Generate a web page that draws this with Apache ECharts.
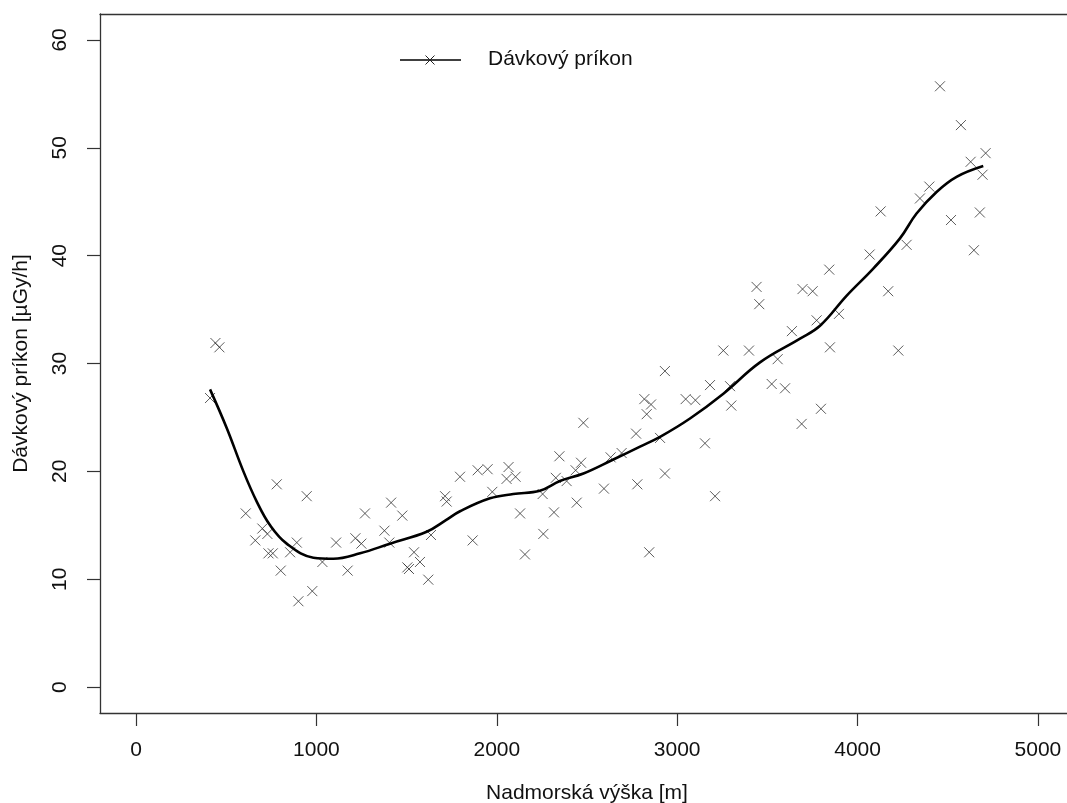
<!DOCTYPE html>
<html>
<head>
<meta charset="utf-8">
<script src="https://cdn.jsdelivr.net/npm/echarts@6/dist/echarts.min.js"></script>
<style>html,body{margin:0;padding:0;background:#fff}#c{width:1067px;height:803px}</style>
</head>
<body>
<div id="c"></div>
<script>
// Measured points: altitude [m]
const altitude = [410,440,462,608,661,700,728,734,758,780,802,854,891,900,946,977,1033,1109,1173,1216,1249,1269,1377,1404,1414,1476,1504,1513,1541,1574,1620,1635,1713,1722,1796,1866,1894,1949,1975,2054,2065,2104,2129,2156,2254,2258,2317,2327,2347,2387,2437,2443,2467,2480,2594,2631,2692,2772,2779,2818,2831,2845,2855,2905,2932,2932,3047,3101,3154,3182,3210,3256,3293,3300,3398,3440,3455,3524,3557,3598,3636,3690,3695,3751,3773,3797,3843,3847,3897,4067,4128,4170,4226,4272,4346,4398,4457,4518,4573,4627,4645,4678,4693,4710];
// Measured dose rate [µGy/h]
const doseRate = [26.8,31.9,31.5,16.1,13.6,14.7,14.2,12.4,12.4,18.8,10.8,12.5,13.4,7.96,17.7,8.9,11.6,13.4,10.8,13.8,13.3,16.1,14.5,13.4,17.1,15.9,11.1,10.95,12.5,11.6,9.96,14.1,17.7,17.2,19.5,13.6,20.1,20.2,18.1,19.3,20.4,19.5,16.1,12.3,17.9,14.2,16.2,19.4,21.4,19.1,20.1,17.1,20.8,24.5,18.4,21.3,21.7,23.5,18.8,26.7,25.3,12.5,26.2,23.1,29.3,19.8,26.7,26.6,22.6,28.0,17.7,31.2,27.9,26.1,31.2,37.1,35.5,28.1,30.4,27.7,33.0,24.4,36.9,36.7,34.0,25.8,38.7,31.5,34.6,40.1,44.1,36.7,31.2,41.0,45.3,46.4,55.7,43.3,52.1,48.7,40.5,44.0,47.5,49.5];
// Smoothed curve
const curveX = [410,503,595,669,743,835,983,1094,1242,1408,1611,1720,1796,1962,2091,2239,2350,2480,2646,2794,2905,3071,3256,3459,3681,3792,3940,4087,4235,4327,4438,4549,4697];
const curveY = [27.6,24.0,20.0,17.2,15.0,13.3,12.0,11.9,12.4,13.3,14.4,15.5,16.3,17.5,17.9,18.2,19.1,19.8,21.1,22.3,23.2,24.9,27.2,30.1,32.3,33.5,36.3,38.8,41.6,43.9,45.9,47.3,48.3];
const xTicks = [0,1000,2000,3000,4000,5000];
const yTicks = [0,10,20,30,40,50,60];
const seriesName = 'Dávkový príkon';
const xTitle = 'Nadmorská výška [m]';
const yTitle = 'Dávkový príkon [µGy/h]';

const FONT = 'Liberation Sans, Arial, sans-serif';
const FS = 21;
const AXC = '#333';
const crossPath = 'path://M0,0 L10,10 M10,0 L0,10';
const chart = echarts.init(document.getElementById('c'), null, {renderer: 'canvas'});
chart.setOption({
  animation: false,
  backgroundColor: '#ffffff',
  grid: {left: 100, right: -7, top: 14, bottom: 90, show: false, containLabel: false, outerBoundsMode: 'none'},
  xAxis: [{
    type: 'value', min: -200, max: 5200, position: 'bottom',
    name: xTitle, nameLocation: 'middle', nameGap: 70,
    nameTextStyle: {fontFamily: FONT, fontSize: FS, color: '#111'},
    axisLine: {show: true, onZero: false, lineStyle: {color: AXC, width: 1.3}},
    axisTick: {show: true, inside: false, length: 13, lineStyle: {color: AXC, width: 1.2}, customValues: xTicks},
    axisLabel: {fontFamily: FONT, fontSize: FS, color: '#111', margin: 27, customValues: xTicks, formatter: v => String(v)},
    splitLine: {show: false}
  }, {
    type: 'value', min: -200, max: 5200, position: 'top',
    axisLine: {show: true, onZero: false, lineStyle: {color: AXC, width: 1.3}},
    axisTick: {show: false}, axisLabel: {show: false}, splitLine: {show: false}
  }],
  yAxis: {
    type: 'value', min: -2.4, max: 62.4,
    name: yTitle, nameLocation: 'middle', nameGap: 68, nameRotate: 90,
    nameTextStyle: {fontFamily: FONT, fontSize: FS, color: '#111'},
    axisLine: {show: true, onZero: false, lineStyle: {color: AXC, width: 1.3}},
    axisTick: {show: true, inside: false, length: 13, lineStyle: {color: AXC, width: 1.2}, customValues: yTicks},
    axisLabel: {fontFamily: FONT, fontSize: FS, color: '#111', margin: 29, rotate: 90, customValues: yTicks, formatter: v => String(v)},
    splitLine: {show: false}
  },
  series: [
    {
      name: seriesName, type: 'scatter', xAxisIndex: 0,
      data: altitude.map((a, i) => [a, doseRate[i]]),
      symbol: crossPath, symbolSize: 10,
      itemStyle: {color: 'none', borderColor: '#333', borderWidth: 1},
      z: 3
    },
    {
      name: seriesName + ' (smooth)', type: 'line', xAxisIndex: 0,
      data: curveX.map((a, i) => [a, curveY[i]]),
      smooth: 0.4, showSymbol: false,
      lineStyle: {color: '#000', width: 2.6},
      z: 4
    }
  ],
  graphic: [
    {type: 'line', shape: {x1: 400, y1: 60, x2: 461, y2: 60}, style: {stroke: '#000', lineWidth: 1.3}},
    {type: 'line', shape: {x1: 425.5, y1: 55.5, x2: 434.5, y2: 64.5}, style: {stroke: '#222', lineWidth: 1}},
    {type: 'line', shape: {x1: 434.5, y1: 55.5, x2: 425.5, y2: 64.5}, style: {stroke: '#222', lineWidth: 1}},
    {type: 'text', left: 488, top: 49, style: {text: seriesName, font: FS + 'px ' + FONT, fill: '#111'}}
  ]
});
</script>
</body>
</html>
